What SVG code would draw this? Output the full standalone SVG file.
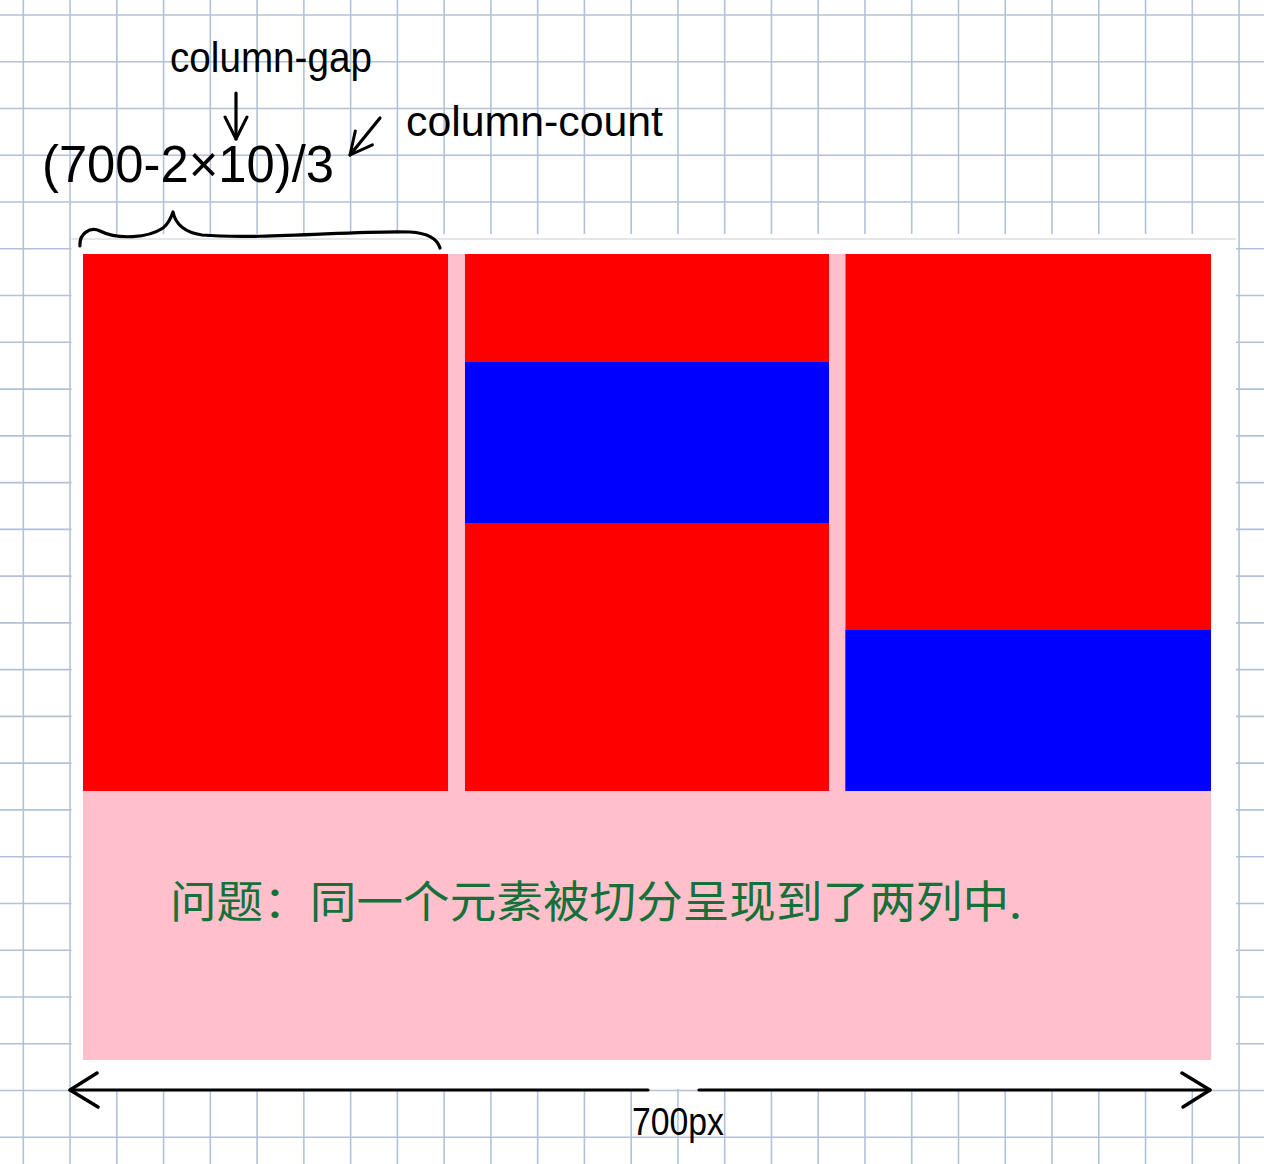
<svg xmlns="http://www.w3.org/2000/svg" width="1264" height="1164" viewBox="0 0 1264 1164">
  <style>
    .grid { stroke: #b3c1d8; stroke-width: 1.6; fill: none; }
    .ink { stroke: #000; stroke-width: 3.2; fill: none; stroke-linecap: round; stroke-linejoin: round; }
    .hand { font-family: "Liberation Sans", "DejaVu Sans", sans-serif; fill: #000; }
    .note { font-family: "Noto Sans CJK SC", "Noto Sans", sans-serif; fill: #16703a; }
    .red { fill: #ff0000; }
    .blue { fill: #0000ff; }
  </style>
  <defs>
    <marker id="chev" viewBox="0 0 32 40" refX="30" refY="20" markerWidth="32" markerHeight="40" markerUnits="userSpaceOnUse" orient="auto-start-reverse">
      <path d="M2,3 L30,20 L3,37" fill="none" stroke="#000" stroke-width="3.4" stroke-linecap="round" stroke-linejoin="round"/>
    </marker>
    <marker id="chev-s" viewBox="0 0 26 28" refX="24" refY="14" markerWidth="26" markerHeight="28" markerUnits="userSpaceOnUse" orient="auto">
      <path d="M2,3 L24,14 L2,25" fill="none" stroke="#000" stroke-width="3" stroke-linecap="round" stroke-linejoin="round"/>
    </marker>
  </defs>

  <rect width="1264" height="1164" fill="#ffffff"/>
  <g id="grid">
    <path class="grid" d="M23.3,0V1164 M70.06,0V1164 M116.82,0V1164 M163.58,0V1164 M210.34,0V1164 M257.1,0V1164 M303.86,0V1164 M350.62,0V1164 M397.38,0V1164 M444.14,0V1164 M490.9,0V1164 M537.66,0V1164 M584.42,0V1164 M631.18,0V1164 M677.94,0V1164 M724.7,0V1164 M771.46,0V1164 M818.22,0V1164 M864.98,0V1164 M911.74,0V1164 M958.5,0V1164 M1005.26,0V1164 M1052.02,0V1164 M1098.78,0V1164 M1145.54,0V1164 M1192.3,0V1164 M1239.06,0V1164"/>
    <path class="grid" d="M0,15H1264 M0,61.76H1264 M0,108.52H1264 M0,155.28H1264 M0,202.04H1264 M0,248.8H1264 M0,295.56H1264 M0,342.32H1264 M0,389.08H1264 M0,435.84H1264 M0,482.6H1264 M0,529.36H1264 M0,576.12H1264 M0,622.88H1264 M0,669.64H1264 M0,716.4H1264 M0,763.16H1264 M0,809.92H1264 M0,856.68H1264 M0,903.44H1264 M0,950.2H1264 M0,996.96H1264 M0,1043.72H1264 M0,1090.48H1264 M0,1137.24H1264"/>
  </g>

  <g id="container">
    <rect x="71.5" y="234" width="1164.5" height="855" fill="#ffffff"/>
    <rect x="71.5" y="238" width="1164.5" height="2" fill="#e6e6e6"/>
    <rect x="83" y="254" width="1128" height="806" fill="#ffc0cb"/>
  </g>

  <g id="column-1">
    <rect class="red" x="83" y="254" width="365" height="537"/>
  </g>
  <g id="column-2">
    <rect class="red" x="465" y="254" width="364" height="537"/>
    <rect class="blue" x="465" y="362" width="364" height="161"/>
  </g>
  <g id="column-3">
    <rect class="red" x="845.5" y="254" width="365.5" height="537"/>
    <rect class="blue" x="845.5" y="630" width="365.5" height="161"/>
  </g>

  <g id="label-column-gap">
    <text class="hand" x="170" y="72" font-size="42" textLength="202" lengthAdjust="spacingAndGlyphs">column-gap</text>
  </g>
  <g id="label-formula">
    <text class="hand" x="42" y="182" font-size="52" textLength="292" lengthAdjust="spacingAndGlyphs">(700-2×10)/3</text>
  </g>
  <g id="label-column-count">
    <text class="hand" x="406" y="136" font-size="42" textLength="257" lengthAdjust="spacingAndGlyphs">column-count</text>
  </g>
  <g id="label-width">
    <text class="hand" x="632" y="1135" font-size="38" textLength="92" lengthAdjust="spacingAndGlyphs">700px</text>
  </g>
  <g id="label-problem">
    <text class="note" x="170" y="918" font-size="44" textLength="852" lengthAdjust="spacingAndGlyphs">问题：同一个元素被切分呈现到了两列中.</text>
  </g>

  <g id="connectors">
    <path class="ink" d="M236,93 L236,139" marker-end="url(#chev-s)"/>
    <path class="ink" d="M380,118 L350,155" marker-end="url(#chev-s)"/>
    <path class="ink" d="M80,246 C79,234 90,226 100,231 C118,240 148,238 163,228 C168,224 171,218 173,212 C175,222 182,232 202,235 C260,240 360,230 410,232 C428,233 437,238 440,248"/>
    <path class="ink" d="M648,1090 L70,1090" marker-end="url(#chev)"/>
    <path class="ink" d="M699,1090 L1210,1090" marker-end="url(#chev)"/>
  </g>
</svg>
